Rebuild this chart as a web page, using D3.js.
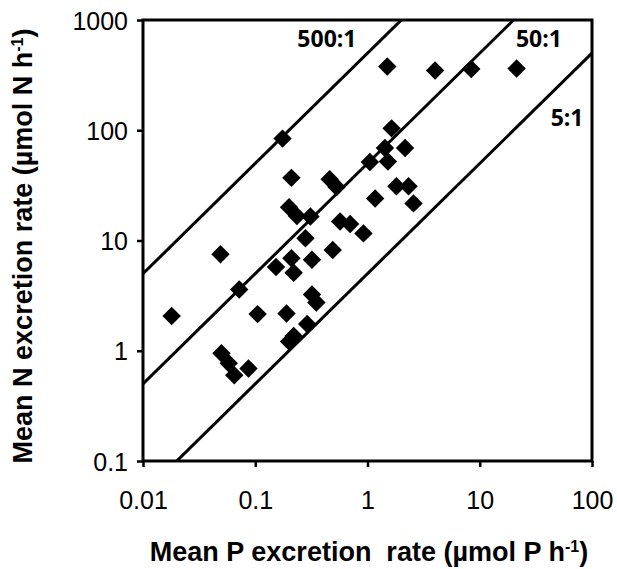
<!DOCTYPE html>
<html>
<head>
<meta charset="utf-8">
<script src="https://cdn.jsdelivr.net/npm/d3@7"></script>
<style>
  body { margin: 0; background: #fff; }
  text { font-family: "Liberation Sans", Arial, sans-serif; }
</style>
</head>
<body>
<div id="chart"></div>
<script>
// P excretion (µmol P/h) and N excretion (µmol N/h) for each taxon
const pRate = [0.018, 0.049, 0.072, 0.105, 0.050, 0.058, 0.065, 0.087, 0.175, 0.21,
               0.20, 0.235, 0.31, 0.28, 0.153, 0.21, 0.22, 0.32, 0.49, 0.57,
               0.70, 0.92, 0.46, 0.53, 1.05, 1.52, 1.43, 2.16, 1.64, 1.17,
               1.81, 2.32, 2.57, 1.5, 4.0, 8.4, 21.3, 0.19, 0.32, 0.35,
               0.29, 0.22, 0.20];
const nRate = [2.07, 7.5, 3.6, 2.15, 0.95, 0.77, 0.60, 0.69, 84, 37,
               20, 16.7, 16.5, 10.5, 5.75, 6.9, 5.1, 6.7, 8.2, 14.9,
               14.1, 11.6, 36, 30.6, 51.5, 52, 69, 69, 104, 24,
               31, 31, 21.7, 379, 348, 359, 363, 2.18, 3.24, 2.74,
               1.75, 1.36, 1.21];

// N:P reference lines and where their labels sit (data units)
const ratios = [500, 50, 5];
const ratioLabels = ["500:1", "50:1", "5:1"];
const labelP = [0.435, 33.7, 60];
const labelN = [570, 570, 109];

const xTicks = [0.01, 0.1, 1, 10, 100];
const yTicks = [0.1, 1, 10, 100, 1000];

const width = 617, height = 569;
const margin = {top: 20, right: 25, bottom: 108, left: 143};
const w = width - margin.left - margin.right;
const h = height - margin.top - margin.bottom;

const svg = d3.select("#chart").append("svg")
    .attr("width", width)
    .attr("height", height);

const g = svg.append("g")
    .attr("transform", "translate(" + margin.left + "," + margin.top + ")");

const x = d3.scaleLog().domain([0.01, 100]).range([0, w]);
const y = d3.scaleLog().domain([0.1, 1000]).range([h, 0]);

const fmt = d => d >= 1 ? d3.format("d")(d) : String(d);

// axes
const xAxis = g.append("g")
    .attr("transform", "translate(0," + h + ")")
    .call(d3.axisBottom(x).tickValues(xTicks).tickFormat(fmt).tickSize(6).tickPadding(24));
const yAxis = g.append("g")
    .call(d3.axisLeft(y).tickValues(yTicks).tickFormat(fmt).tickSize(6).tickPadding(9));

[xAxis, yAxis].forEach(a => {
    a.select(".domain").remove();
    a.selectAll(".tick line").attr("stroke", "#000").attr("stroke-width", 2.5);
    a.selectAll(".tick text")
        .attr("fill", "#000")
        .style("font-size", "25px")
        .style("font-family", "'Liberation Sans', Arial, sans-serif");
});
yAxis.selectAll(".tick text").attr("dy", "0.36em");

// ratio lines
g.append("clipPath").attr("id", "clip")
    .append("rect").attr("width", w).attr("height", h);

const lines = g.append("g").attr("clip-path", "url(#clip)");
ratios.forEach(r => {
    lines.append("line")
        .attr("x1", x(0.001)).attr("y1", y(0.001 * r))
        .attr("x2", x(1000)).attr("y2", y(1000 * r))
        .attr("stroke", "#000")
        .attr("stroke-width", 3);
});

// ratio labels
ratioLabels.forEach((t, i) => {
    g.append("text")
        .attr("x", x(labelP[i]))
        .attr("y", y(labelN[i]))
        .attr("text-anchor", "middle")
        .style("font-family", "'Open Sans', sans-serif")
        .style("font-weight", "bold")
        .style("font-size", "23px")
        .text(t);
});

// points
const points = pRate.map((p, i) => ({p: p, n: nRate[i]}));
g.selectAll(".pt")
    .data(points)
    .enter()
    .append("path")
    .attr("class", "pt")
    .attr("d", d3.symbol().type(d3.symbolSquare).size(170))
    .attr("transform", d => "translate(" + x(d.p) + "," + y(d.n) + ") rotate(45)")
    .attr("fill", "#000");

// frame
g.append("rect")
    .attr("width", w)
    .attr("height", h)
    .attr("fill", "none")
    .attr("stroke", "#000")
    .attr("stroke-width", 3);

// axis titles
const xt = svg.append("text")
    .attr("x", 369)
    .attr("y", 561)
    .attr("text-anchor", "middle")
    .style("white-space", "pre")
    .style("font-weight", "bold")
    .style("font-size", "27px");
xt.append("tspan").text("Mean P excretion  rate (µmol P h");
xt.append("tspan").attr("dy", -9).style("font-size", "16px").text("-1");
xt.append("tspan").attr("dy", 9).text(")");

const yt = svg.append("text")
    .attr("transform", "translate(32,246) rotate(-90)")
    .attr("text-anchor", "middle")
    .style("font-weight", "bold")
    .style("font-size", "27px");
yt.append("tspan").text("Mean N excretion rate (µmol N h");
yt.append("tspan").attr("dy", -9).style("font-size", "16px").text("-1");
yt.append("tspan").attr("dy", 9).text(")");
</script>
</body>
</html>
